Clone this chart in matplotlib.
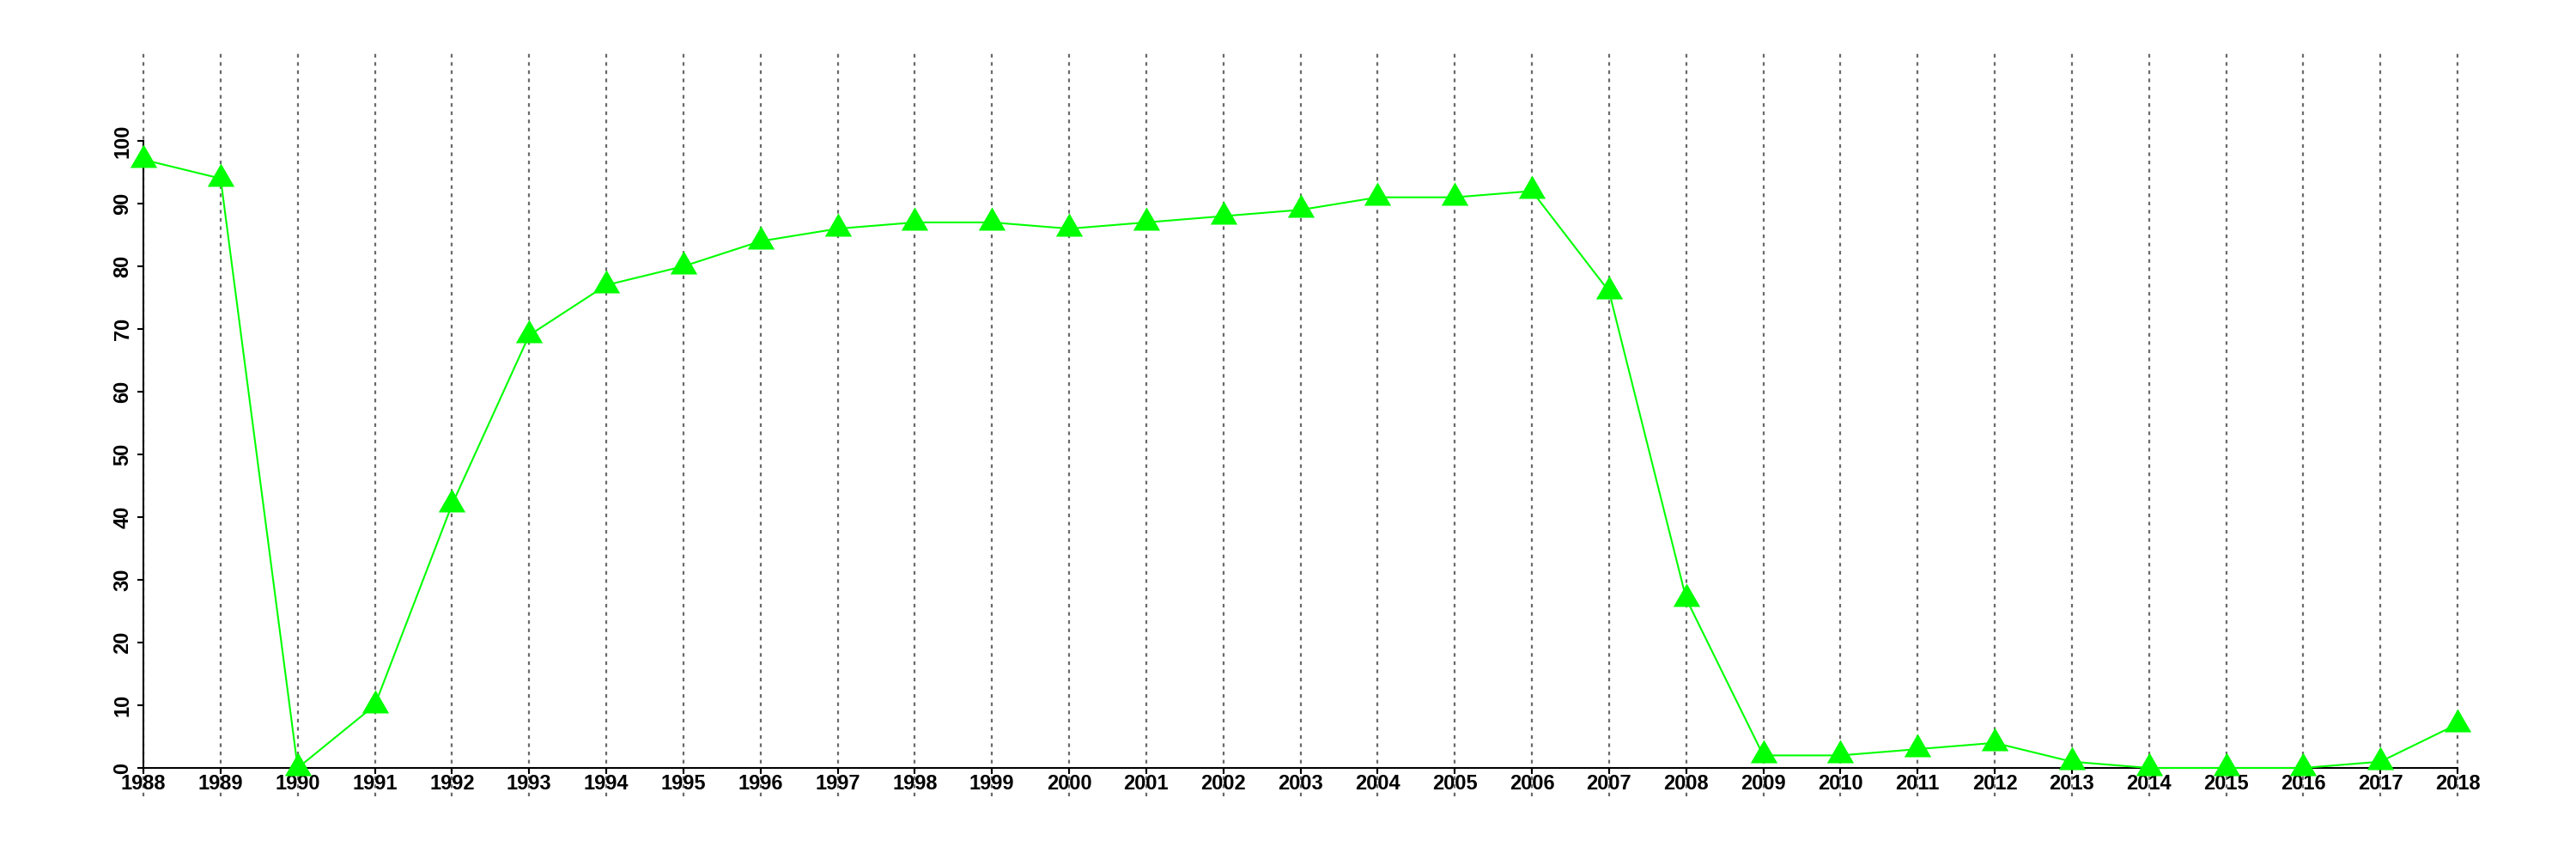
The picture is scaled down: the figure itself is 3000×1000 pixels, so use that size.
import matplotlib
matplotlib.use("Agg")
import matplotlib.pyplot as plt

# values
years = list(range(1988, 2019))
values = [97, 94, 0, 10, 42, 69, 77, 80, 84, 86, 87, 87, 86, 87, 88, 89,
          91, 91, 92, 76, 27, 2, 2, 3, 4, 1, 0, 0, 0, 1, 7]
y_ticks = [0, 10, 20, 30, 40, 50, 60, 70, 80, 90, 100]

plt.rcParams['font.family'] = ['Liberation Sans', 'DejaVu Sans']
plt.rcParams['font.weight'] = 'bold'

fig = plt.figure(figsize=(30, 10), dpi=100)
ax = fig.add_axes([0.0557, 0.106, 0.8983, 0.730])

ax.set_xlim(years[0], years[-1])
ax.set_ylim(0, 100)

# dotted year lines running past the plot area (R abline style)
for yr in years:
    ax.plot([yr, yr], [-4.5, 114.4], color='#6a6a6a', lw=1.6,
            linestyle=(0, (1.9, 2.4)), clip_on=False, zorder=1)

# equilateral triangle centred on its centroid, like R's pch 17
tri = [(-1.0, -0.577), (1.0, -0.577), (0.0, 1.155)]
ax.plot(years, values, color='#00ff00', lw=1.5, marker=tri, markersize=26,
        markerfacecolor='#00ff00', markeredgewidth=0, clip_on=False, zorder=3)

for side in ['top', 'right']:
    ax.spines[side].set_visible(False)
ax.spines['left'].set_bounds(0, 100)
ax.spines['bottom'].set_bounds(years[0], years[-1])
ax.spines['left'].set_linewidth(1.5)
ax.spines['bottom'].set_linewidth(1.5)

ax.set_xticks(years)
ax.set_xticklabels([str(y) for y in years])
ax.set_yticks(y_ticks)
ax.set_yticklabels([str(v) for v in y_ticks], rotation=90, va='center')
ax.tick_params(axis='both', length=5, width=1.5, labelsize=17)
ax.tick_params(axis='x', pad=0)
ax.tick_params(axis='y', pad=4)

fig.savefig("out.png", dpi=100)
